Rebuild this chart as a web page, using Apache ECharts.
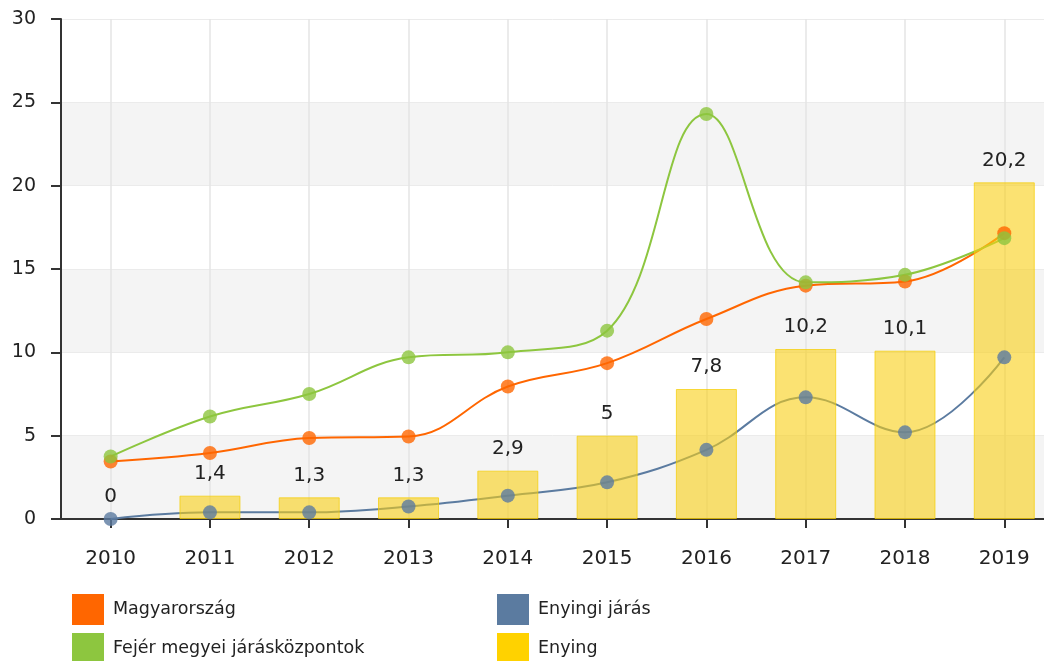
<!DOCTYPE html>
<html>
<head>
<meta charset="utf-8">
<script src="https://cdn.jsdelivr.net/npm/echarts@6/dist/echarts.min.js"></script>
<style>
  html, body { margin: 0; padding: 0; background: #ffffff; }
  #chart { width: 1044px; height: 661px; }
</style>
</head>
<body>
<div id="chart"></div>
<script>
const years = ['2010', '2011', '2012', '2013', '2014', '2015', '2016', '2017', '2018', '2019'];
const magyarorszag = [3.45, 3.96, 4.86, 4.95, 7.95, 9.35, 12.0, 14.0, 14.25, 17.15];
const fejer = [3.75, 6.15, 7.5, 9.7, 10.0, 11.3, 24.3, 14.2, 14.65, 16.85];
const enyingiJaras = [0, 0.4, 0.4, 0.75, 1.4, 2.2, 4.15, 7.3, 5.2, 9.7];
const enying = [0, 1.4, 1.3, 1.3, 2.9, 5, 7.8, 10.2, 10.1, 20.2];
const seriesNames = ['Magyarország', 'Fejér megyei járásközpontok', 'Enyingi járás', 'Enying'];

const colors = {
  orange: '#FF6600',
  green: '#8DC63F',
  blue: '#5B7BA0',
  yellow: '#FFD200'
};

const pair = arr => arr.map((v, i) => [i, v]);
const fmt = v => String(v).replace('.', ',');
const FONT = 'DejaVu Sans';

function lineSeries(name, data, color) {
  return {
    name: name, type: 'line', data: pair(data), smooth: 0.4,
    showSymbol: false, z: 2,
    lineStyle: { color: color, width: 2 },
    itemStyle: { color: color },
    emphasis: { disabled: true }
  };
}
function dotSeries(name, data, color) {
  return {
    name: name + ' pont', type: 'scatter', data: pair(data),
    symbol: 'circle', symbolSize: 14, z: 4,
    itemStyle: { color: color },
    emphasis: { disabled: true }
  };
}
function legendItem(name, color, left, top) {
  return {
    left: left, top: top, orient: 'vertical', icon: 'rect',
    itemWidth: 32, itemHeight: 31, itemGap: 0,
    selectedMode: false, padding: 0,
    textStyle: { color: '#222', fontSize: 17.5, fontFamily: FONT, padding: [0, 0, 0, 4] },
    data: [{ name: name, itemStyle: { color: color, borderWidth: 0, opacity: 1 } }]
  };
}

const chart = echarts.init(document.getElementById('chart'), null, { renderer: 'canvas' });
chart.setOption({
  animation: false,
  backgroundColor: '#ffffff',
  grid: { left: 61, right: 0, top: 19, bottom: 142 },
  xAxis: {
    type: 'value', min: -0.5, max: 9.4,
    axisLine: { show: true, onZero: false, lineStyle: { color: '#333', width: 2 } },
    axisTick: { show: true, length: 9, customValues: years.map((y, i) => i), lineStyle: { color: '#333', width: 2 } },
    axisLabel: {
      customValues: years.map((y, i) => i),
      formatter: v => years[Math.round(v)] || '',
      margin: 30, color: '#222', fontSize: 20, fontFamily: FONT
    },
    splitLine: { show: true, lineStyle: { color: '#e4e4e4', width: 1.5 } }
  },
  yAxis: {
    type: 'value', min: 0, max: 30, interval: 5,
    axisLine: { show: true, onZero: false, lineStyle: { color: '#333', width: 2 } },
    axisTick: { show: true, length: 10, lineStyle: { color: '#333', width: 2 } },
    axisLabel: { margin: 25, color: '#222', fontSize: 19, fontFamily: FONT },
    splitLine: { show: true, lineStyle: { color: '#ebebeb', width: 1 } },
    splitArea: { show: true, areaStyle: { color: ['#f4f4f4', '#ffffff'] } }
  },
  legend: [
    legendItem(seriesNames[0], colors.orange, 72, 594),
    legendItem(seriesNames[1], colors.green, 72, 633),
    legendItem(seriesNames[2], colors.blue, 497, 594),
    legendItem(seriesNames[3], colors.yellow, 497, 633)
  ],
  series: [
    lineSeries(seriesNames[0], magyarorszag, colors.orange),
    lineSeries(seriesNames[1], fejer, colors.green),
    lineSeries(seriesNames[2], enyingiJaras, colors.blue),
    {
      name: seriesNames[3], type: 'bar', barWidth: 61, z: 3,
      data: enying.map((v, i) => v === 0
        ? { value: [i, v], itemStyle: { borderWidth: 0 } }
        : { value: [i, v] }),
      itemStyle: { color: 'rgba(248,206,20,0.6)', borderColor: 'rgba(245,205,0,0.7)', borderWidth: 1 },
      label: {
        show: true, position: 'top', distance: 12,
        color: '#222', fontSize: 20, fontFamily: FONT,
        formatter: p => fmt(p.value[1])
      },
      emphasis: { disabled: true }
    },
    dotSeries(seriesNames[0], magyarorszag, colors.orange),
    dotSeries(seriesNames[1], fejer, colors.green),
    dotSeries(seriesNames[2], enyingiJaras, colors.blue)
  ]
});
</script>
</body>
</html>
